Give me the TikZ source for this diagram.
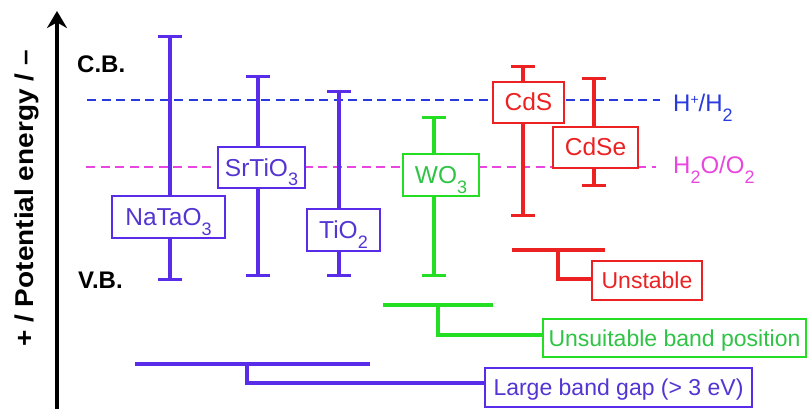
\documentclass[tikz,border=0pt]{standalone}
\usepackage{fontspec}
\setmainfont{Liberation Sans}
\usepackage{graphicx}
\usetikzlibrary{arrows.meta}
\definecolor{bv}{RGB}{88,44,232}
\definecolor{bvt}{RGB}{84,52,210}
\definecolor{hblue}{RGB}{40,58,220}
\definecolor{mag}{RGB}{232,70,222}
\definecolor{grn}{RGB}{36,222,36}
\definecolor{grnt}{RGB}{48,196,70}
\definecolor{rd}{RGB}{236,34,34}
\newcommand\sbs[1]{\raisebox{-9.5pt}{\fontsize{18}{18}\selectfont #1}}
\newcommand\sps[1]{\raisebox{7pt}{\fontsize{14}{14}\selectfont #1}}
\tikzset{
  band/.style={line width=3.2pt, {Bar[width=24pt]}-{Bar[width=24pt]}},
  mbox/.style={draw, fill=white, line width=1.4pt, inner sep=0pt,
    font=\fontsize{24.5}{28}\selectfont, text height=17pt, text depth=0pt},
  lbox/.style={draw, fill=white, line width=1.4pt, inner sep=0pt,
    font=\fontsize{23}{28}\selectfont, text height=16.5pt, text depth=0pt},
  dline/.style={line width=2.3pt, dash pattern=on 9pt off 5.5pt},
  brk/.style={line width=3.2pt},
  lvl/.style={font=\fontsize{24}{28}\selectfont, inner sep=0pt, anchor=base west},
  cbvb/.style={font=\fontsize{24}{28}\selectfont\bfseries, inner sep=0pt, anchor=base west},
}
\begin{document}
\begin{tikzpicture}[x=1pt,y=-1pt]
\useasboundingbox (0,0) rectangle (809,409);
% axis
\coordinate (axb) at (57,409);
\coordinate (axt) at (57,11);
\draw[line width=3.2pt, -{Stealth[length=17pt,width=20pt]}] (axb) -- (axt);
\node[rotate=90, anchor=base, inner sep=0pt, font=\fontsize{28}{30}\selectfont\bfseries] (ylab) at (33,198.5)
  {\scalebox{1}[0.92]{+ / Potential energy / –}};
\node[cbvb] (cb) at (77,72.5) {C.B.};
\node[cbvb] (vb) at (78,288) {V.B.};
% redox levels
\coordinate (h1) at (87,100);
\coordinate (h2) at (660,100);
\coordinate (o1) at (86,167);
\coordinate (o2) at (656,167);
\draw[dline, hblue] (h1) -- (h2);
\draw[dline, mag] (o1) -- (o2);
\node[lvl, text=hblue] (hlab) at (673,112) {H\sps{+}/H\sbs{2}};
\node[lvl, text=mag] (olab) at (673,174) {H\sbs{2}O/O\sbs{2}};
% bands
\coordinate (nt) at (170,35);  \coordinate (nb) at (170,281);
\coordinate (st) at (258,75);  \coordinate (sb) at (258,277);
\coordinate (tt) at (339,90);  \coordinate (tb) at (339,277);
\coordinate (wt) at (434,116); \coordinate (wb) at (434,277);
\coordinate (ct) at (523,65);  \coordinate (cb2) at (523,217);
\coordinate (et) at (594,77);  \coordinate (eb) at (594,187);
\draw[band, bv] (nt) -- (nb);
\draw[band, bv] (st) -- (sb);
\draw[band, bv] (tt) -- (tb);
\draw[band, grn] (wt) -- (wb);
\draw[band, rd] (ct) -- (cb2);
\draw[band, rd] (et) -- (eb);
% material boxes
\node[mbox, draw=bv, text=bvt, minimum width=113pt, minimum height=42pt] (na) at (168.5,217) {NaTaO\sbs{3}};
\node[mbox, draw=bv, text=bvt, minimum width=87pt, minimum height=41pt] (sr) at (261.5,167.5) {SrTiO\sbs{3}};
\node[mbox, draw=bv, text=bvt, minimum width=73pt, minimum height=42pt] (ti) at (343.5,230) {TiO\sbs{2}};
\node[mbox, draw=grn, text=grnt, minimum width=76pt, minimum height=42pt] (wo) at (441,175) {WO\sbs{3}};
\node[mbox, draw=rd, text=rd, minimum width=71pt, minimum height=41pt] (cds) at (528.5,102.5) {CdS};
\node[mbox, draw=rd, text=rd, minimum width=85pt, minimum height=41pt] (cdse) at (595.5,147.5) {CdSe};
% category boxes
\node[lbox, draw=rd, text=rd, minimum width=110pt, minimum height=39pt] (uns) at (647,280.5) {Unstable};
\node[lbox, draw=grn, text=grnt, minimum width=263pt, minimum height=38pt] (ubp) at (674.5,338) {Unsuitable band position};
\node[lbox, draw=bv, text=bvt, minimum width=267pt, minimum height=39pt] (lbg) at (618.5,387.5) {Large band gap (> 3 eV)};
% brackets
\coordinate (r1) at (512,250); \coordinate (r2) at (605,250); \coordinate (r3) at (558,250);
\draw[brk, rd] (r1) -- (r2);
\draw[brk, rd] (r3) |- ([yshift=1.5pt]uns.west);
\coordinate (g1) at (383,305); \coordinate (g2) at (493,305); \coordinate (g3) at (438,305);
\draw[brk, grn] (g1) -- (g2);
\draw[brk, grn] (g3) |- ([yshift=3pt]ubp.west);
\coordinate (b1) at (135,364); \coordinate (b2) at (370,364); \coordinate (b3) at (247,364);
\draw[brk, bv] (b1) -- (b2);
\draw[brk, bv] (b3) |- ([yshift=4.5pt]lbg.west);
\end{tikzpicture}
\end{document}
